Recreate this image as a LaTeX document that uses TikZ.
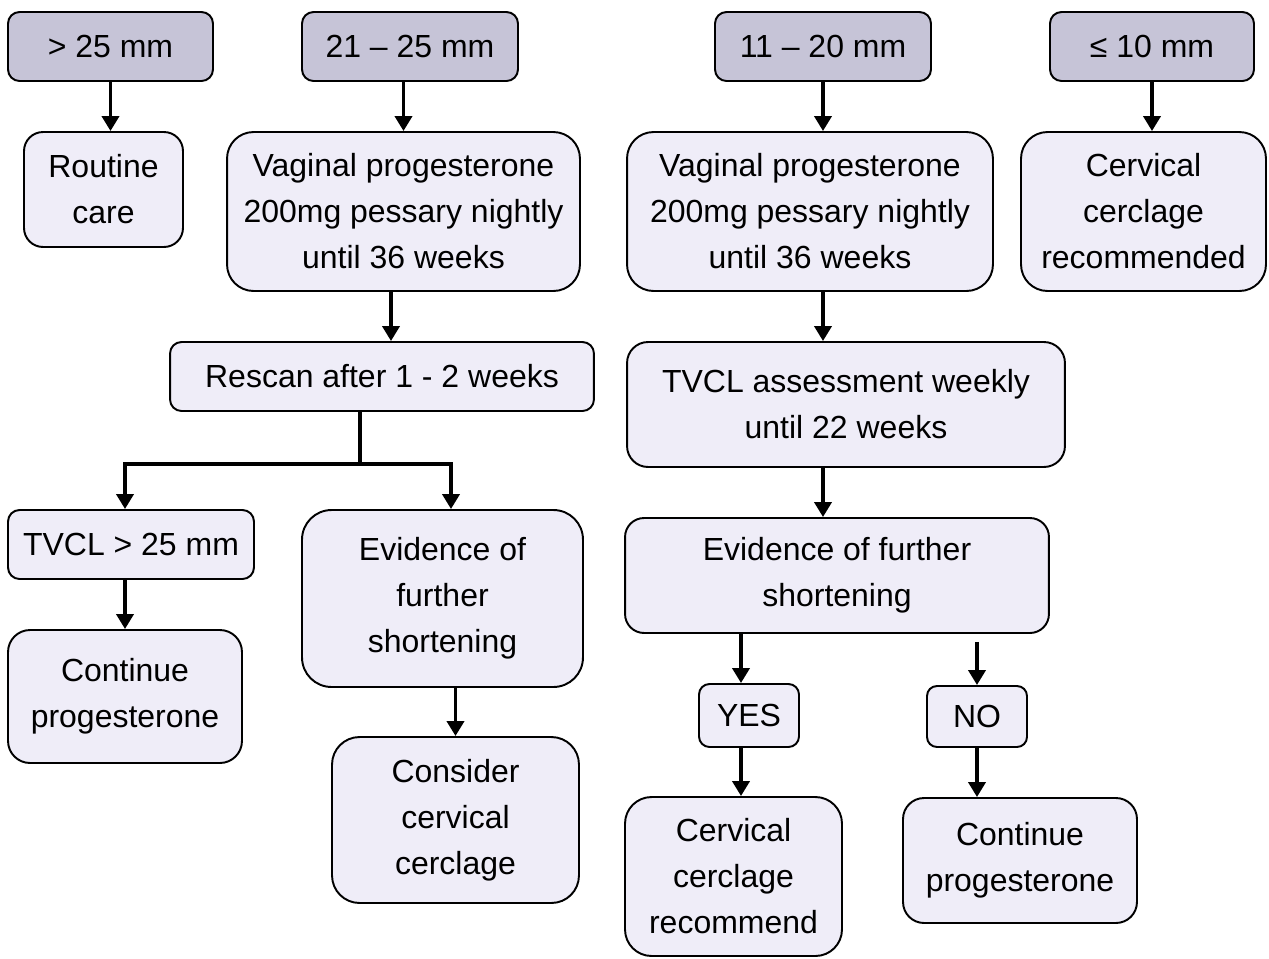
\documentclass[tikz,border=0pt]{standalone}
\usepackage{fontspec}
\setmainfont{Liberation Sans}
\usepackage{xcolor}
\usepackage{tikz}
\usetikzlibrary{calc,arrows.meta}
\definecolor{headfill}{HTML}{C6C4D7}
\definecolor{boxfill}{HTML}{EFEDF8}
\newcommand{\chartfont}{\fontsize{18.2}{26.2}\selectfont}
\tikzset{
  box/.style={draw=black, line width=1.1pt, fill=boxfill, rounded corners=#1,
    align=center, inner sep=0pt, font=\chartfont},
  box/.default=0.4cm,
  head/.style={box=0.23cm, fill=headfill, minimum height=1.38cm},
  wire/.style={draw=black, line width=2.2pt},
  arr/.style={wire, -{Triangle[length=0.30cm,width=0.34cm]}},
}

\begin{document}
\begin{tikzpicture}[x=0.02cm,y=-0.02cm]
  \useasboundingbox (0,0) rectangle (1269,958);

  % length bands
  \node[head, minimum width=4.10cm] (gt25)  at (110.5,46.5) {> 25 mm};
  \node[head, minimum width=4.32cm] (mid)   at (410,46.5)   {21 – 25 mm};
  \node[head, minimum width=4.32cm] (short) at (823,46.5)   {11 – 20 mm};
  \node[head, minimum width=4.08cm] (le10)  at (1152,46.5)  {≤ 10 mm};

  % first actions
  \node[box=0.38cm, minimum width=3.18cm, minimum height=2.30cm] (routine) at (103.5,189.5) {Routine\\care};
  \node[box=0.53cm, minimum width=7.06cm, minimum height=3.18cm] (progA) at (403.5,211.5)
    {Vaginal progesterone\\200mg pessary nightly\\until 36 weeks};
  \node[box=0.53cm, minimum width=7.32cm, minimum height=3.18cm] (progB) at (810,211.5)
    {Vaginal progesterone\\200mg pessary nightly\\until 36 weeks};
  \node[box=0.53cm, minimum width=4.90cm, minimum height=3.18cm] (cercA) at (1143.5,211.5)
    {Cervical\\cerclage\\recommended};

  % left branch
  \node[box=0.23cm, minimum width=8.48cm, minimum height=1.38cm] (rescan) at (382,376.5) {Rescan after 1 - 2 weeks};
  \coordinate (split) at (360,464);
  \node[box=0.23cm, minimum width=4.92cm, minimum height=1.38cm] (tvcl) at (131,544.5) {TVCL > 25 mm};
  \node[box=0.59cm, minimum width=5.62cm, minimum height=3.54cm] (evidA) at (442.5,598.5)
    {Evidence of\\further\\shortening};
  \node[box=0.44cm, minimum width=4.68cm, minimum height=2.66cm] (contA) at (125,696.5)
    {Continue\\progesterone};
  \node[box=0.55cm, minimum width=4.94cm, minimum height=3.32cm] (consider) at (455.5,820)
    {Consider\\cervical\\cerclage};

  % right branch
  \node[box=0.42cm, minimum width=8.76cm, minimum height=2.50cm] (assess) at (846,404.5)
    {TVCL assessment weekly\\until 22 weeks};
  \node[box=0.38cm, minimum width=8.48cm, minimum height=2.30cm] (evidB) at (837,575.5)
    {Evidence of further\\shortening};
  \node[box=0.21cm, minimum width=2.00cm, minimum height=1.26cm] (yes) at (749,715.5) {YES};
  \node[box=0.20cm, minimum width=2.00cm, minimum height=1.22cm] (no) at (977,716.5) {NO};
  \node[box=0.53cm, minimum width=4.34cm, minimum height=3.18cm] (cercB) at (733.5,876.5)
    {Cervical\\cerclage\\recommend};
  \node[box=0.42cm, minimum width=4.68cm, minimum height=2.50cm] (contB) at (1020,860.5)
    {Continue\\progesterone};

  % connectors
  \draw[arr] (gt25.south) -- (gt25.south |- routine.north);
  \draw[arr] (progA.north |- mid.south) -- (progA.north);
  \draw[arr] (short.south) -- (short.south |- progB.north);
  \draw[arr] (le10.south) -- (le10.south |- cercA.north);

  \draw[arr] ([xshift=0.18cm]rescan.north |- progA.south) -- ([xshift=0.18cm]rescan.north);
  \draw[wire] (rescan.south -| split) -- (split);
  \draw[arr] (split) -| ([xshift=-0.12cm]tvcl.north);
  \draw[arr] (split) -| ([xshift=0.17cm]evidA.north);
  \draw[arr] (contA.north |- tvcl.south) -- (contA.north);
  \draw[arr] (consider.north |- evidA.south) -- (consider.north);

  \draw[arr] (progB.south -| short.south) -- (assess.north -| short.south);
  \draw[arr] (assess.south -| short.south) -- (evidB.north -| short.south);
  \draw[arr] ([xshift=-0.16cm]yes.north |- evidB.south) -- ([xshift=-0.16cm]yes.north);
  \draw[arr, shorten <=0.16cm] (no.north |- evidB.south) -- (no.north);
  \draw[arr] ([xshift=-0.16cm]yes.south) -- ([xshift=-0.16cm]yes.south |- cercB.north);
  \draw[arr] (no.south) -- (no.south |- contB.north);
\end{tikzpicture}
\end{document}
